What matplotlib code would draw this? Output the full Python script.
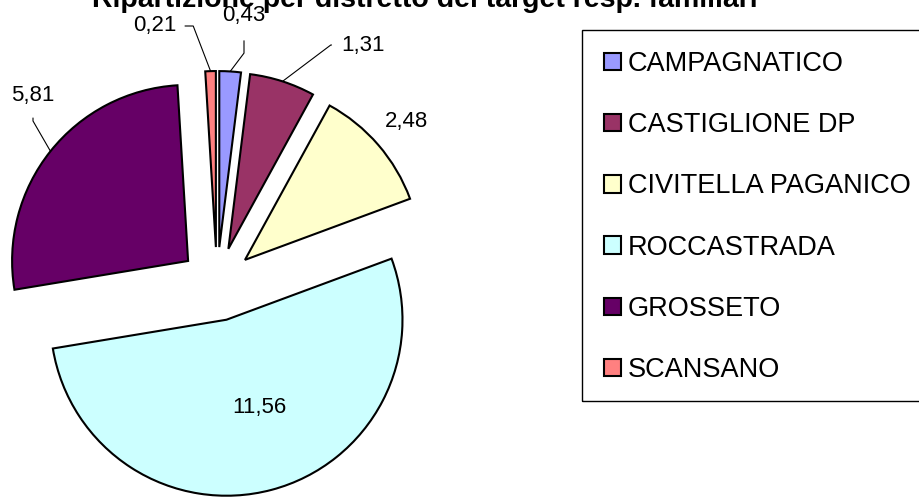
import numpy as np
import matplotlib
matplotlib.use("Agg")
import matplotlib.pyplot as plt
from matplotlib.patches import Patch, Rectangle

plt.rcParams['font.family'] = ['Liberation Sans', 'DejaVu Sans']

# dati
distretti = ['CAMPAGNATICO', 'CASTIGLIONE DP', 'CIVITELLA PAGANICO',
             'ROCCASTRADA', 'GROSSETO', 'SCANSANO']
valori = [0.43, 1.31, 2.48, 11.56, 5.81, 0.21]
colori = ['#9999FF', '#993366', '#FFFFCC', '#CCFFFF', '#660066', '#FF8080']
titolo = 'Ripartizione per distretto del target resp. familiari'

W, H = 919, 497
fig = plt.figure(figsize=(W / 100, H / 100), dpi=100)

# pie: centro (217, 284) px dall'alto, raggio 176 px
cx, cy, R = 217, 284, 176
ax = fig.add_axes([0, 0, 1, 1])
wedges, _ = ax.pie(valori, colors=colori, startangle=90, counterclock=False,
                   explode=[0.21] * len(valori),
                   wedgeprops=dict(edgecolor='black', linewidth=1.5))
ax.set_xlim(-cx / R, (W - cx) / R)
ax.set_ylim(-(H - cy) / R, cy / R)
ax.set_aspect('auto')
ax.axis('off')

def fmt(v):
    return f'{v:.2f}'.replace('.', ',')

# posizioni etichette (px dall'alto), stile linee guida
etichette = {
    0: dict(pos=(244, 15), relpos=(0.5, 0.0), cs='angle,angleA=90,angleB=53,rad=0', shr=9),
    1: dict(pos=(363, 45), relpos=(0.0, 0.5), cs='angle,angleA=0,angleB=37,rad=0', shr=5),
    2: dict(pos=(406, 122), relpos=None, cs=None, shr=0),
    3: dict(pos=(259, 407), relpos=None, cs=None, shr=0),
    4: dict(pos=(33, 95), relpos=(0.5, 0.0), cs='angle,angleA=90,angleB=120,rad=0', shr=7),
    5: dict(pos=(155, 26), relpos=(1.0, 0.5), cs='angle,angleA=0,angleB=111,rad=0', shr=4),
}

for i, w in enumerate(wedges):
    mid = np.deg2rad((w.theta1 + w.theta2) / 2)
    wx, wy = w.center
    e = etichette[i]
    tx, ty = e['pos']
    edge = (wx + w.r * np.cos(mid), wy + w.r * np.sin(mid))
    if e['cs'] is None:
        ax.annotate(fmt(valori[i]), xy=edge, xytext=(tx, H - ty),
                    textcoords='figure pixels', ha='center', va='center', fontsize=16)
    else:
        ax.annotate(fmt(valori[i]), xy=edge, xytext=(tx, H - ty),
                    textcoords='figure pixels', ha='center', va='center', fontsize=16,
                    arrowprops=dict(arrowstyle='-', color='black', lw=0.8,
                                    connectionstyle=e['cs'], relpos=e['relpos'],
                                    shrinkA=e['shr'], shrinkB=0))

# titolo (tagliato in alto come nell'originale)
fig.text(425 / W, 1 - 7 / H, titolo, ha='center', va='baseline',
         fontsize=20.5, fontweight='bold')

# legenda
fig.add_artist(Rectangle((582 / W, 1 - 401 / H), (930 - 582) / W, 371 / H,
                         transform=fig.transFigure, fill=False,
                         edgecolor='black', linewidth=1))
handles = [Patch(facecolor=c, edgecolor='black', linewidth=1.5) for c in colori]
fig.legend(handles, distretti, loc='upper left',
           bbox_to_anchor=(604 / W, 1 - 51 / H), frameon=False,
           fontsize=19.5, handlelength=0.62, handleheight=0.62,
           handletextpad=0.25, labelspacing=1.30, borderpad=0, borderaxespad=0)

fig.savefig('out.png', dpi=100)
